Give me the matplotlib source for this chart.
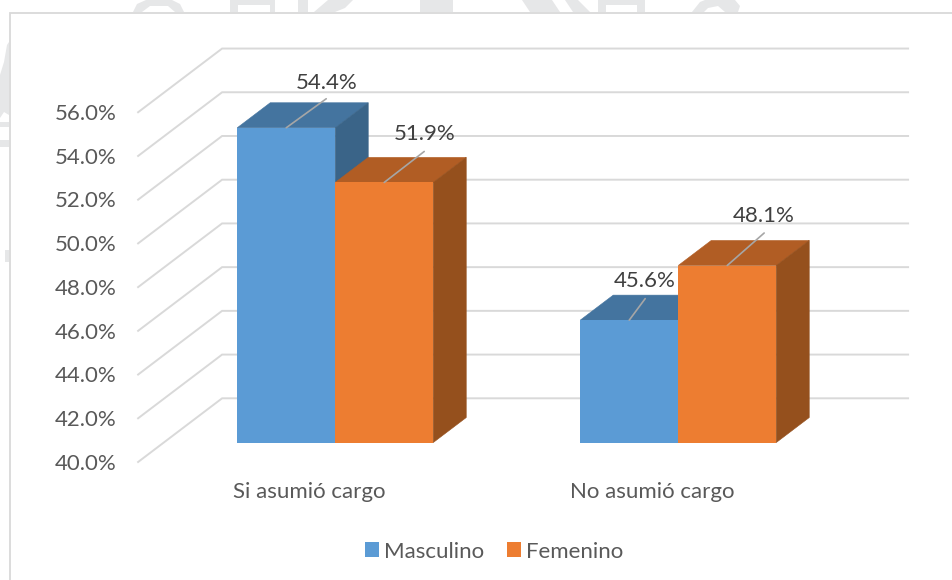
import matplotlib
matplotlib.use('Agg')
import matplotlib.pyplot as plt
from matplotlib.patches import Polygon, Rectangle, Patch
from matplotlib.transforms import Affine2D

# Datos del gráfico
categorias = ['Si asumió cargo', 'No asumió cargo']
masculino = [54.4, 45.6]
femenino = [51.9, 48.1]
ticks = [40, 42, 44, 46, 48, 50, 52, 54, 56]

# Estilo
plt.rcParams['font.family'] = ['Lato', 'DejaVu Sans']
GRIS = '#D9D9D9'
TEXTO = '#595959'
TEXTO_OSC = '#404040'
MARCA = '#E6E7E8'
PX_X = 343.0   # pixeles por categoria
PX_Y = 21.86   # pixeles por punto porcentual
PROF_X = 84 / PX_X     # profundidad total en unidades de x
PROF_Y = 63.7 / PX_Y   # profundidad total en unidades de y
ANCHO = 1 / 3.5
BASE = 40

fig = plt.figure(figsize=(9.52, 5.8), dpi=100)
ax = fig.add_axes([0, 0, 1, 1])
ax.set_xlim((0 - 309.6) / PX_X, (952 - 309.6) / PX_X)
ax.set_ylim(40 - (580 - 462.0) / PX_Y, 40 + 462.0 / PX_Y)
ax.axis('off')

# Marca de agua del fondo, en pixeles de la imagen
px = Affine2D().scale(1, -1).translate(0, 580)
marca = [
    [(133, 12), (137, 4), (146, 0), (172, 0), (180, 4), (184, 12), (175, 12), (168, 6), (150, 6), (142, 12)],
    [(230, 12), (230, 0), (275, 0), (275, 12), (270, 12), (270, 5), (238, 5), (238, 12)],
    [(298, 12), (298, 0), (308, 0), (308, 12)],
    [(314, 12), (328, 0), (353, 0), (345, 8), (335, 12)],
    [(420, 12), (420, 0), (453, 0), (453, 12)],
    [(522, 0), (552, 0), (560, 12), (530, 12)],
    [(565, 0), (578, 0), (590, 12), (573, 12)],
    [(598, 12), (598, 0), (645, 0), (645, 12), (637, 12), (637, 5), (606, 5), (606, 12)],
    [(692, 12), (700, 2), (705, 0), (735, 0), (740, 6), (738, 12), (725, 12), (718, 6), (708, 8), (704, 12)],
    [(0, 75), (4, 62), (7, 45), (9, 42), (9, 115), (4, 112), (0, 118)],
    [(0, 122), (9, 122), (9, 127), (0, 127)],
    [(0, 140), (9, 140), (9, 147), (0, 147)],
    [(5, 250), (9, 250), (9, 262), (5, 262)],
]
for forma in marca:
    ax.add_patch(Polygon(forma, closed=True, fc=MARCA, ec='none', transform=px, zorder=0))

# Marco del grafico
ax.plot([9.5, 9.5, 952], [580, 13, 13], color=GRIS, lw=1.3, transform=px, zorder=1, solid_joinstyle='miter')

# Lineas de cuadricula: pared lateral y pared del fondo
for t in ticks:
    ax.plot([-0.5, -0.5 + PROF_X, 1.5 + PROF_X], [t, t + PROF_Y, t + PROF_Y],
            color=GRIS, lw=1.4, zorder=2, solid_joinstyle='miter')
    ax.annotate(f'{t:.1f}%', (-0.5, t), xytext=(-15.5, -1.2), textcoords='offset points',
                ha='right', va='center', fontsize=16, color=TEXTO, zorder=5)


def barra(x, valor, frente, arriba, lado):
    # Barra 3D: cara frontal, superior y lateral
    x0 = x + 0.305 * PROF_X
    y0 = BASE + 0.305 * PROF_Y
    y1 = valor + 0.305 * PROF_Y
    dx = 0.393 * PROF_X
    dy = 0.393 * PROF_Y
    ax.add_patch(Polygon([(x0, y1), (x0 + dx, y1 + dy), (x0 + ANCHO + dx, y1 + dy), (x0 + ANCHO, y1)],
                         fc=arriba, ec=arriba, lw=0.4, zorder=3))
    ax.add_patch(Polygon([(x0 + ANCHO, y0), (x0 + ANCHO + dx, y0 + dy), (x0 + ANCHO + dx, y1 + dy), (x0 + ANCHO, y1)],
                         fc=lado, ec=lado, lw=0.4, zorder=3))
    ax.add_patch(Rectangle((x0, y0), ANCHO, valor - BASE, fc=frente, ec='none', zorder=4))
    return x0 + ANCHO / 2, y1


# Desplazamiento de etiquetas (pt): fin de la guia y centro del texto
guias = {54.4: (28.8, 20.9), 51.9: (28.8, 22.3), 45.6: (11.5, 15.5), 48.1: (26.6, 23.4)}
textos = {54.4: (28.8, 32.4), 51.9: (28.8, 34.6), 45.6: (11, 28.1), 48.1: (26.6, 35.3)}

for i in range(len(categorias)):
    barras = [(i - ANCHO, masculino[i], '#5B9BD5', '#44749F', '#3A6488'),
              (i, femenino[i], '#ED7D31', '#B15D24', '#95501D')]
    for x, v, c1, c2, c3 in barras:
        cx, cy = barra(x, v, c1, c2, c3)
        ax.annotate('', (cx, cy), xytext=guias[v], textcoords='offset points', zorder=6,
                    arrowprops=dict(arrowstyle='-', color='#A6A6A6', lw=1.2, shrinkA=0, shrinkB=0))
        ax.annotate(f'{v:.1f}%', (cx, cy), xytext=textos[v], textcoords='offset points',
                    ha='center', va='center', fontsize=16, color=TEXTO_OSC, zorder=7)
    ax.text(i, 40 - (492 - 462.0) / PX_Y, categorias[i], ha='center', va='center',
            fontsize=16, color=TEXTO, zorder=5)

# Leyenda
handles = [Patch(fc='#5B9BD5', ec='none', label='Masculino'), Patch(fc='#ED7D31', ec='none', label='Femenino')]
ax.legend(handles=handles, ncol=2, loc='center', bbox_to_anchor=(494 / 952, 1 - 551.5 / 580),
          frameon=False, fontsize=16, labelcolor=TEXTO, handlelength=0.63, handleheight=0.63,
          handletextpad=0.22, columnspacing=1.02, borderpad=0, borderaxespad=0)

fig.savefig('out.png', dpi=100)
